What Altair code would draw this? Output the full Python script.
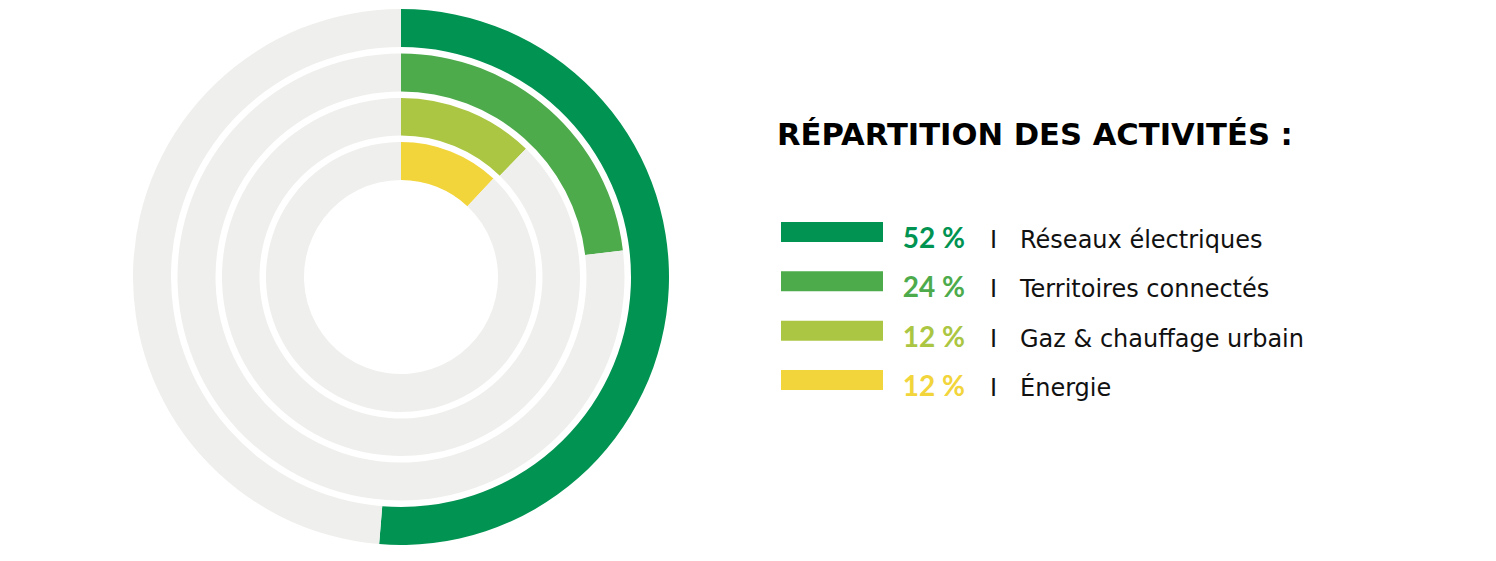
import altair as alt
import pandas as pd

categories = ["Réseaux électriques", "Territoires connectés", "Gaz & chauffage urbain", "Énergie"]
values = [52, 24, 12, 12]               # shares as labelled
arc_values = [51.3, 23.1, 12.3, 12.0]   # sweep of each drawn arc
pct_labels = ["52 %", "24 %", "12 %", "12 %"]
colors = ["#009352", "#4dab4c", "#abc642", "#f2d43b"]
gray = "#efefed"
title_text = "RÉPARTITION DES ACTIVITÉS :"

r_outer = [268, 223.5, 179, 135]
r_inner = [230, 185.5, 141.5, 97]

rows = []
for i, (c, v) in enumerate(zip(categories, arc_values)):
    rows.append({"cat": c, "rank": i, "start": 0, "end": v, "ro": r_outer[i], "ri": r_inner[i], "col": colors[i]})
    rows.append({"cat": c, "rank": i, "start": v, "end": 100, "ro": r_outer[i], "ri": r_inner[i], "col": gray})
arcs_df = pd.DataFrame(rows)

leg_df = pd.DataFrame({"cat": categories, "rank": list(range(4)), "pct": pct_labels, "col": colors, "val": values})

theta_scale = alt.Scale(domain=[0, 100], range=[0, 6.283185307])
y_scale = alt.Scale(domain=[0, 3], range=[224, 372])

arcs = alt.Chart(arcs_df).mark_arc().encode(
    theta=alt.Theta("start:Q", scale=theta_scale),
    theta2="end:Q",
    radius=alt.Radius("ro:Q", scale=None),
    radius2="ri:Q",
    color=alt.Color("col:N", scale=None),
    x=alt.value(393),
    y=alt.value(269),
)

base = alt.Chart(leg_df)
rects = base.mark_rect(height=20).encode(
    x=alt.value(773), x2=alt.value(875),
    y=alt.Y("rank:Q", scale=y_scale, axis=None),
    color=alt.Color("col:N", scale=None),
)
pct = base.mark_text(align="right", baseline="alphabetic", dy=16, font="Lato", fontSize=28, fontWeight="bold").encode(
    x=alt.value(957),
    y=alt.Y("rank:Q", scale=y_scale, axis=None),
    text="pct:N",
    color=alt.Color("col:N", scale=None),
)
sep = base.mark_text(align="left", baseline="alphabetic", dy=16, font="DejaVu Sans", fontSize=24, color="#111111", text="I").encode(
    x=alt.value(982),
    y=alt.Y("rank:Q", scale=y_scale, axis=None),
)
labels = base.mark_text(align="left", baseline="alphabetic", dy=16, font="DejaVu Sans", fontSize=24, color="#111111").encode(
    x=alt.value(1012),
    y=alt.Y("rank:Q", scale=y_scale, axis=None),
    text="cat:N",
)
title = alt.Chart(pd.DataFrame({"t": [title_text]})).mark_text(
    align="left", baseline="alphabetic", font="DejaVu Sans", fontSize=30.6, fontWeight="bold", color="#000000"
).encode(x=alt.value(769), y=alt.value(137), text="t:N")

chart = alt.layer(arcs, rects, pct, sep, labels, title).properties(
    width=1480, height=545, autosize=alt.AutoSizeParams(type="none"), padding=0
).configure_view(stroke=None)

chart.save("out.html", embed_options={"renderer": "svg", "actions": False})
